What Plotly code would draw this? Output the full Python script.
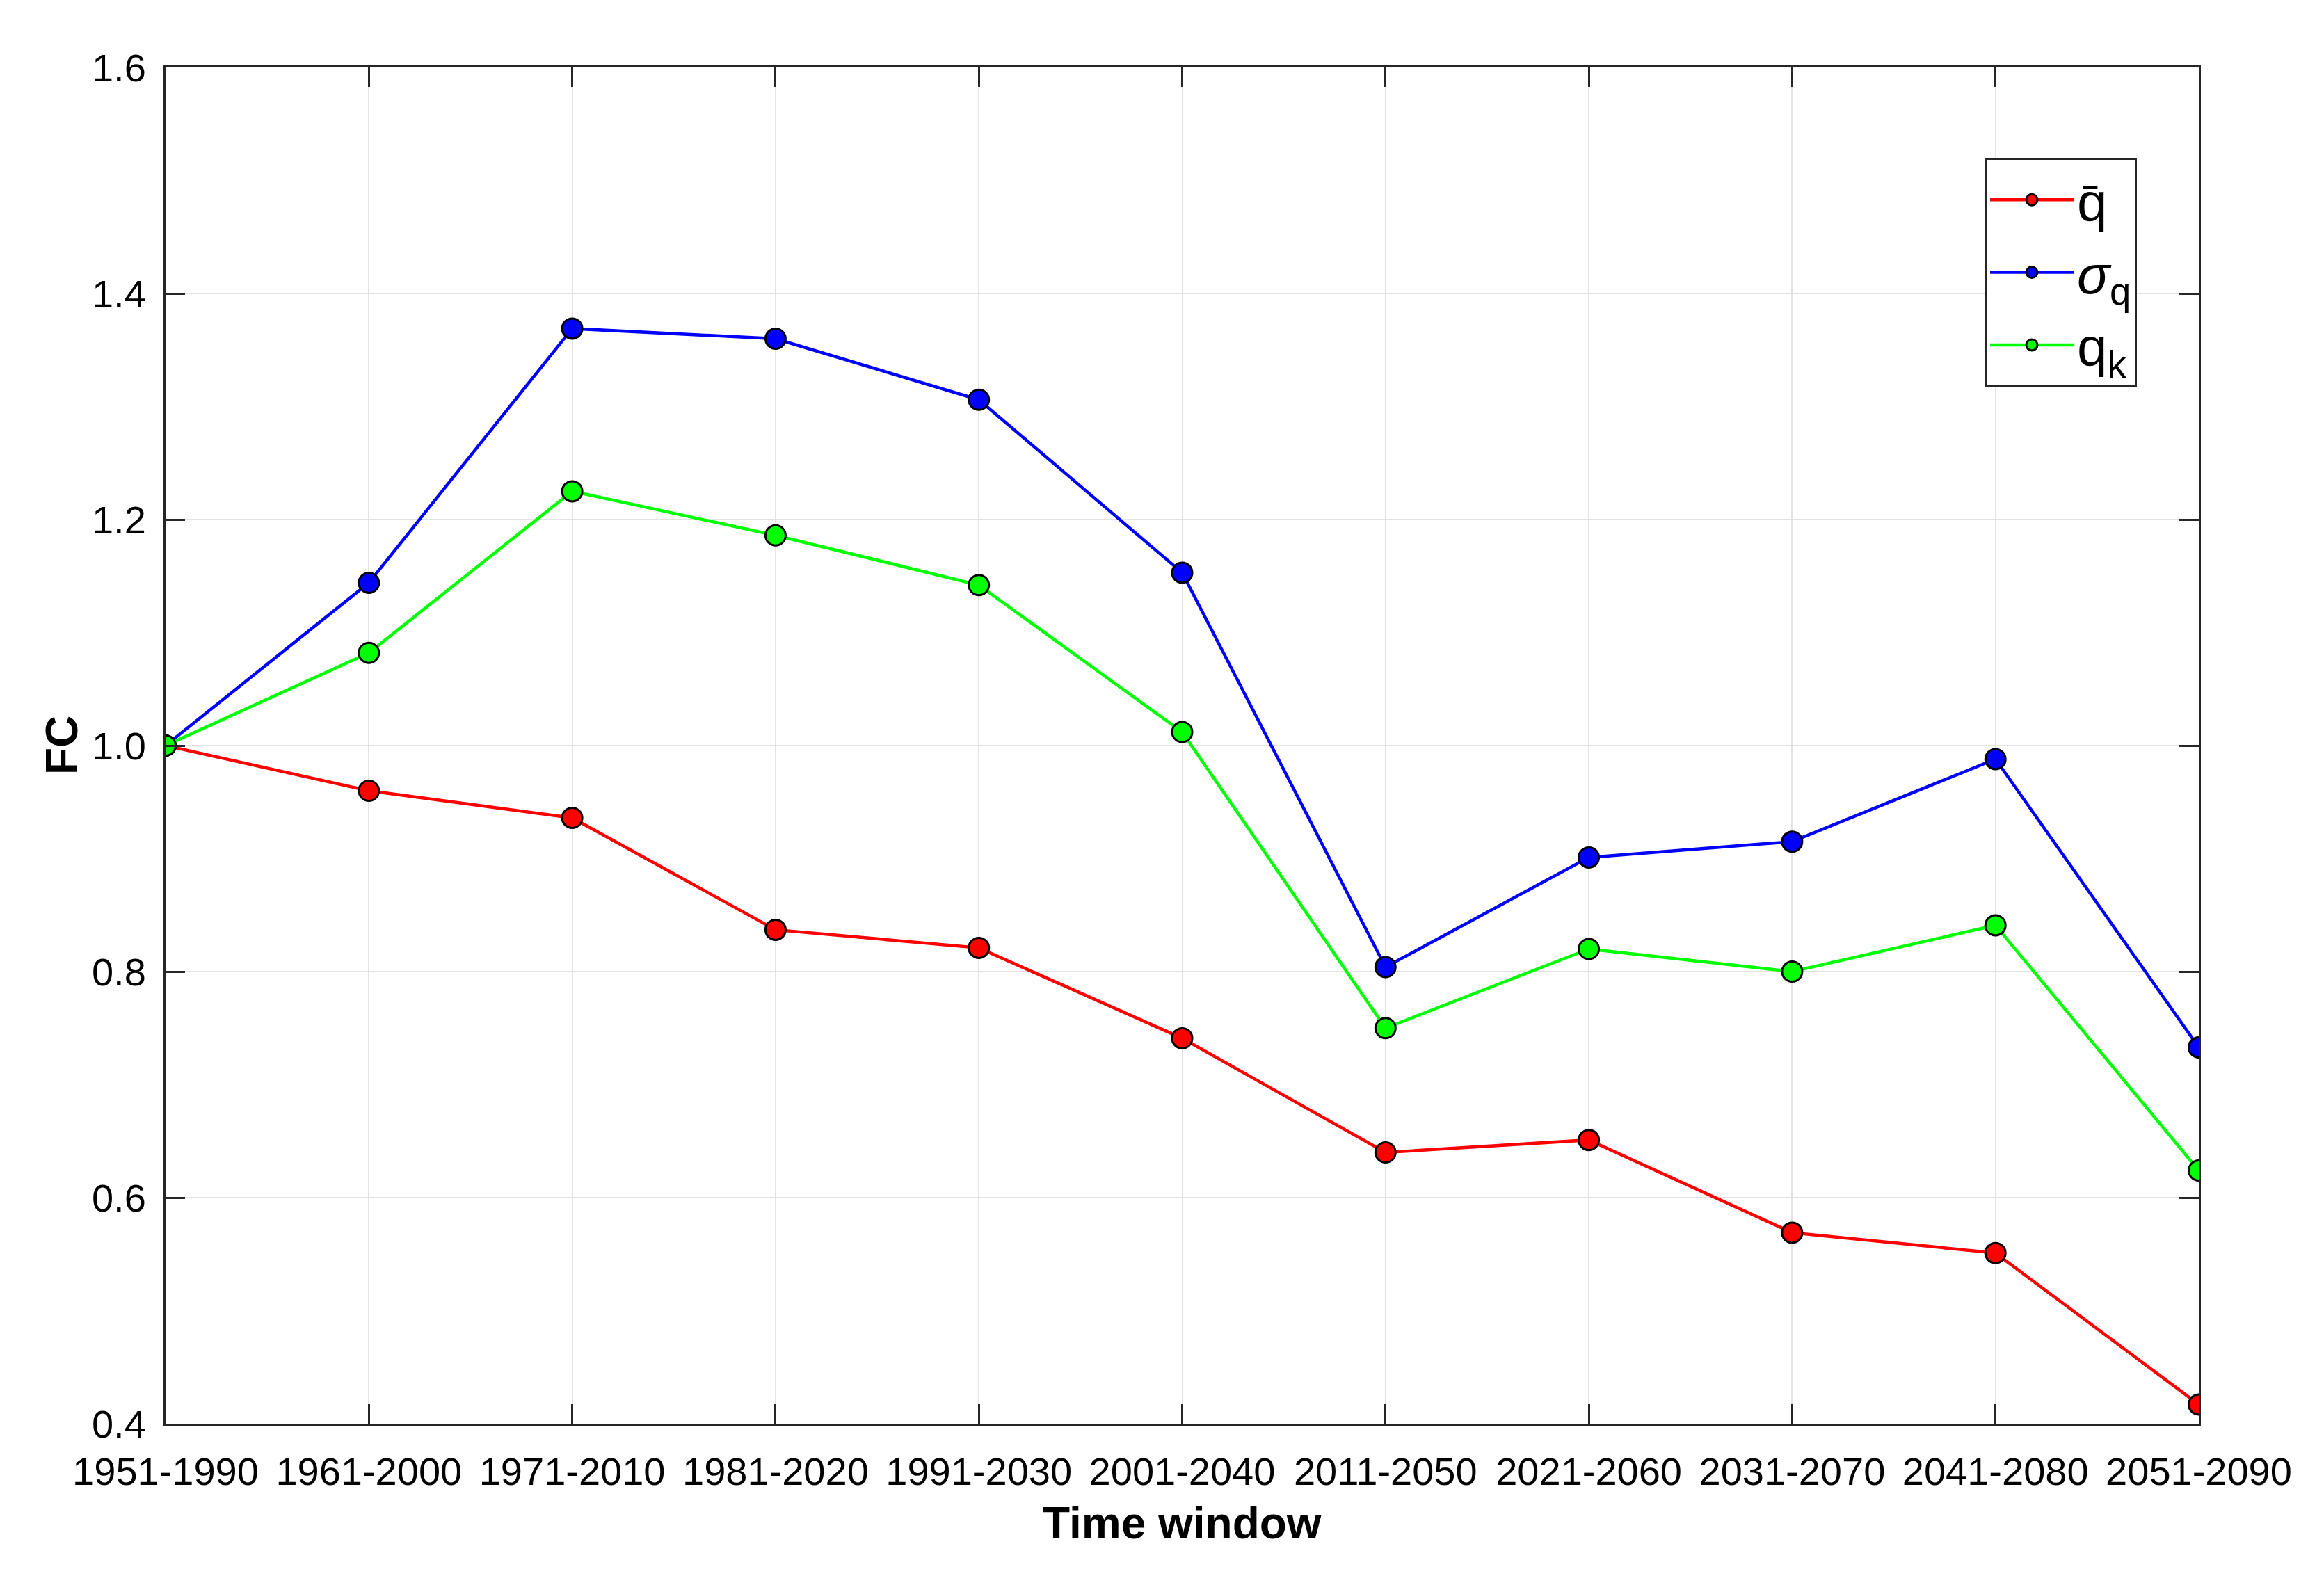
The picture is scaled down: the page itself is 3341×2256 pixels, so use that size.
import plotly.graph_objects as go

windows = ["1951-1990", "1961-2000", "1971-2010", "1981-2020", "1991-2030", "2001-2040",
           "2011-2050", "2021-2060", "2031-2070", "2041-2080", "2051-2090"]
q_mean = [1.0, 0.96, 0.936, 0.837, 0.821, 0.741, 0.640, 0.651, 0.569, 0.551, 0.417]
sigma_q = [1.0, 1.144, 1.369, 1.360, 1.306, 1.153, 0.804, 0.901, 0.915, 0.988, 0.733]
q_k = [1.0, 1.082, 1.225, 1.186, 1.142, 1.012, 0.750, 0.820, 0.800, 0.841, 0.624]

series = [
    ("q\u0304", q_mean, "#ff0000"),
    ("<i>\u03c3</i><sub>q</sub>", sigma_q, "#0000ff"),
    ("q<sub>k</sub>", q_k, "#00ff00"),
]

fig = go.Figure()
for name, vals, col in series:
    fig.add_trace(go.Scatter(
        x=list(range(len(windows))), y=vals, name=name, mode="lines+markers",
        line=dict(color=col, width=4.5),
        marker=dict(color=col, size=29, line=dict(color="black", width=3)),
    ))

W, H = 3341, 2256
L, R, T, B = 230, 188, 89, 217
fig.update_layout(
    width=W, height=H,
    margin=dict(l=L, r=R, t=T, b=B),
    paper_bgcolor="white", plot_bgcolor="white",
    font=dict(family="Liberation Sans, Arial, sans-serif", size=56, color="black"),
    showlegend=True,
    legend=dict(
        x=(3064 - L) / (W - L - R), y=(H - B - 219) / (H - T - B),
        xanchor="right", yanchor="top",
        bordercolor="#262626", borderwidth=3, bgcolor="white",
        font=dict(size=78), itemwidth=120,
    ),
    xaxis=dict(
        tickmode="array", tickvals=list(range(len(windows))), ticktext=windows,
        range=[0, len(windows) - 1],
        showgrid=True, gridcolor="#e3e3e3", gridwidth=2,
        showline=True, linecolor="#262626", linewidth=3, mirror="ticks",
        ticks="inside", ticklen=28, tickwidth=3, tickcolor="#262626",
        tickfont=dict(size=56), ticklabelstandoff=18, zeroline=False,
    ),
    yaxis=dict(
        range=[0.4, 1.6], tickmode="linear", tick0=0.4, dtick=0.2, tickformat=".1f",
        showgrid=True, gridcolor="#e3e3e3", gridwidth=2,
        showline=True, linecolor="#262626", linewidth=3, mirror="ticks",
        ticks="inside", ticklen=28, tickwidth=3, tickcolor="#262626",
        tickfont=dict(size=56), ticklabelstandoff=14, zeroline=False,
    ),
    annotations=[
        dict(text="<b>Time window</b>", xref="paper", yref="paper",
             x=0.5, y=-(2182 - (H - B)) / (H - T - B), xanchor="center", yanchor="middle",
             showarrow=False, font=dict(size=64)),
        dict(text="<b>FC</b>", xref="paper", yref="paper",
             x=-(L - 81) / (W - L - R), y=0.5, xanchor="center", yanchor="middle",
             textangle=-90, showarrow=False, font=dict(size=64)),
    ],
)

fig.write_html("out.html")
